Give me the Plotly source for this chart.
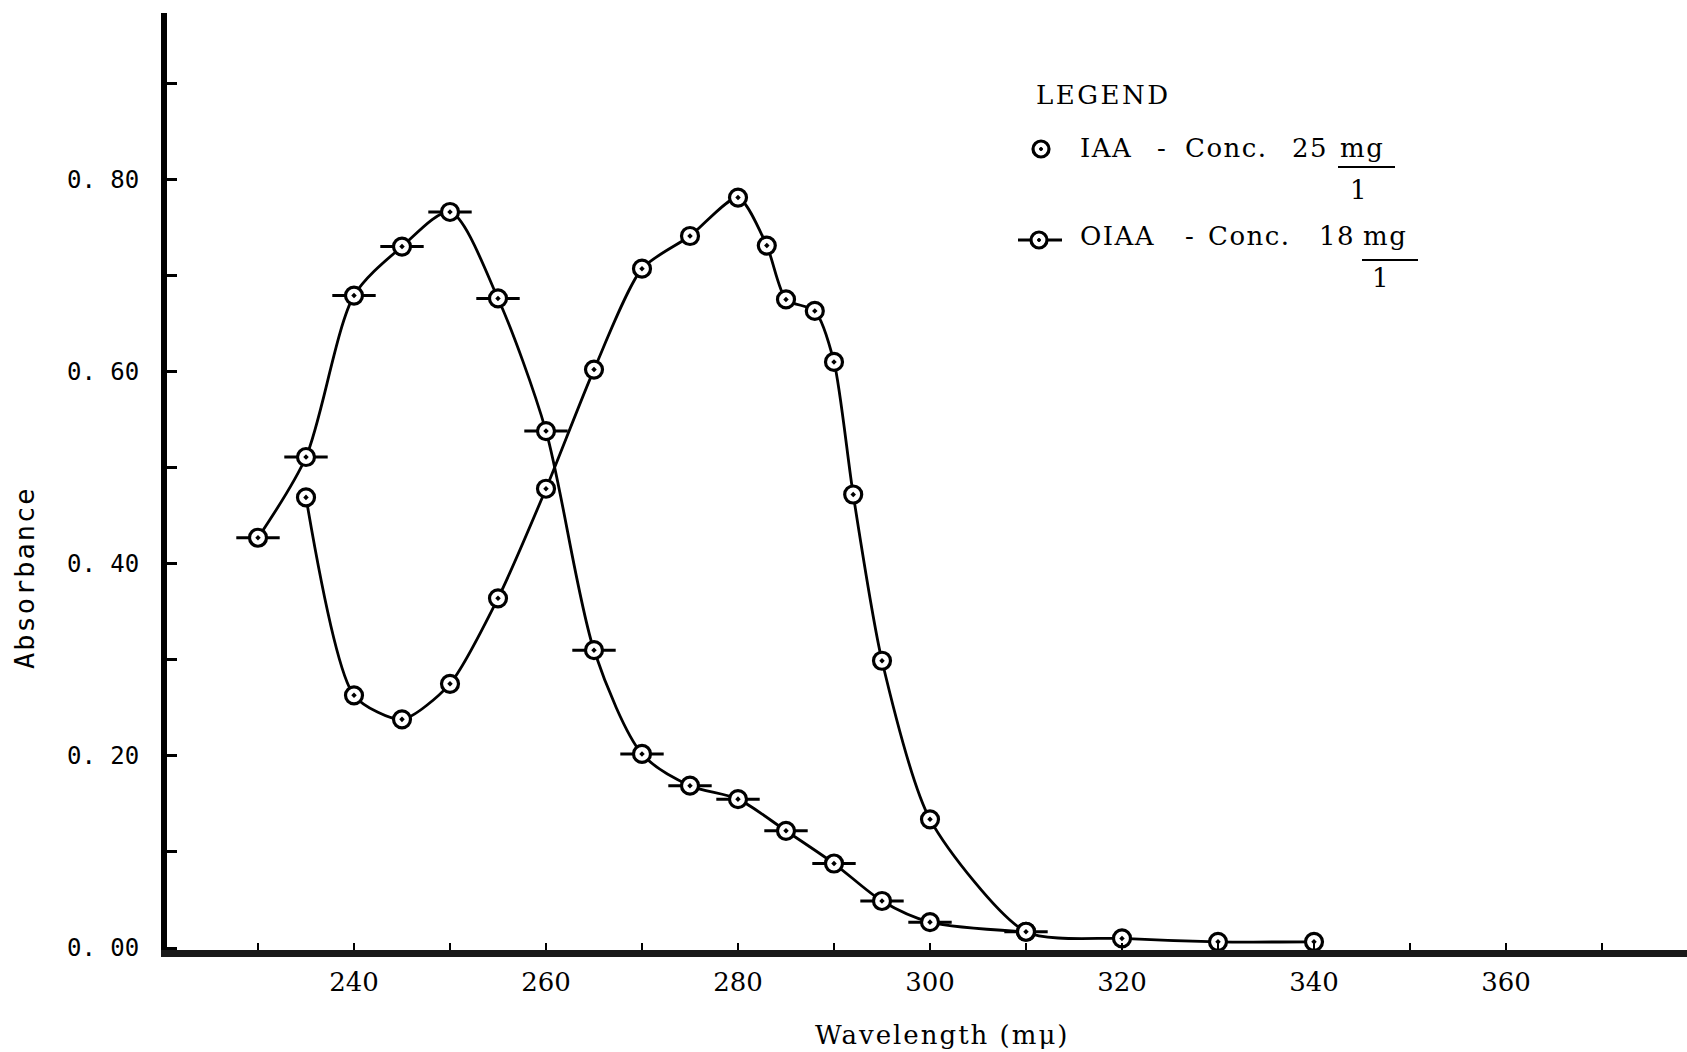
import plotly.graph_objects as go

# ---------------- data ----------------
oiaa_wl = [230, 235, 240, 245, 250, 255, 260, 265, 270, 275, 280, 285, 290, 295, 300, 310]
oiaa_abs = [0.427, 0.511, 0.679, 0.730, 0.766, 0.676, 0.538, 0.310, 0.202, 0.169, 0.155,
            0.122, 0.088, 0.049, 0.027, 0.017]

iaa_wl = [235, 240, 245, 250, 255, 260, 265, 270, 275, 280, 283, 285, 288, 290, 292, 295,
          300, 310, 320, 330, 340]
iaa_abs = [0.469, 0.263, 0.238, 0.275, 0.364, 0.478, 0.602, 0.707, 0.741, 0.781, 0.731,
           0.675, 0.663, 0.610, 0.472, 0.299, 0.134, 0.017, 0.010, 0.0065, 0.0065]

x_tickvals = [230, 240, 250, 260, 270, 280, 290, 300, 310, 320, 330, 340, 350, 360, 370]
x_ticktext = ["", "240", "", "260", "", "280", "", "300", "", "320", "", "340", "", "360", ""]
y_tickvals = [0.0, 0.1, 0.2, 0.3, 0.4, 0.5, 0.6, 0.7, 0.8, 0.9]
y_ticktext = ["0. 00", "", "0. 20", "", "0. 40", "", "0. 60", "", "0. 80", ""]

# ---------------- layout geometry (pixels) ----------------
W, H = 1687, 1052
L, R, T, B = 167, 0, 13, 102
PW, PH = W - L - R, H - T - B


def px(xp):
    return (xp - L) / PW


def py(yp):
    return (H - B - yp) / PH


def spaced(s, ls):
    return '<span style="letter-spacing:%spx">%s</span>' % (ls, s)


serif = "DejaVu Serif"
mono = "DejaVu Sans Mono"

fig = go.Figure()

# horizontal dashes of OIAA markers (drawn under the circles)
fig.add_trace(go.Scatter(
    x=oiaa_wl, y=oiaa_abs, mode="markers", showlegend=False, hoverinfo="skip",
    marker=dict(symbol="line-ew", size=31, line=dict(color="black", width=3)),
))
# IAA curve
fig.add_trace(go.Scatter(
    x=iaa_wl, y=iaa_abs, mode="lines+markers", name="IAA", showlegend=False,
    line=dict(color="black", width=2.8, shape="spline", smoothing=0.7),
    marker=dict(symbol="circle-dot", size=17, color="white",
                line=dict(color="black", width=3.2)),
))
# OIAA curve
fig.add_trace(go.Scatter(
    x=oiaa_wl, y=oiaa_abs, mode="lines+markers", name="OIAA", showlegend=False,
    line=dict(color="black", width=2.8, shape="spline", smoothing=0.8),
    marker=dict(symbol="circle-dot", size=17, color="white",
                line=dict(color="black", width=3.2)),
))

annotations = []
shapes = []

# axis titles
annotations.append(dict(
    text=spaced("Absorbance", 2), xref="paper", yref="paper", x=px(24), y=py(578),
    xanchor="center", yanchor="middle", textangle=-90, showarrow=False,
    font=dict(family=mono, size=27, color="black"),
))
annotations.append(dict(
    text=spaced("Wavelength (m\u03bc)", 2), xref="paper", yref="paper", x=px(942), y=py(1035),
    xanchor="center", yanchor="middle", showarrow=False,
    font=dict(family=serif, size=26, color="black"),
))

# legend
lf = dict(family=serif, size=26, color="black")
annotations.append(dict(text=spaced("LEGEND", 2.5), xref="paper", yref="paper", x=px(1034), y=py(95),
                        xanchor="left", yanchor="middle", showarrow=False, font=lf))
row1 = [("IAA", 1078), ("-", 1155), ("Conc.", 1183), ("25", 1290), ("mg", 1338)]
row2 = [("OIAA", 1078), ("-", 1183), ("Conc.", 1206), ("18", 1317), ("mg", 1361)]
for words, yc in ((row1, 148), (row2, 236)):
    for w, xl in words:
        annotations.append(dict(text=spaced(w, 1.5), xref="paper", yref="paper", x=px(xl), y=py(yc),
                                xanchor="left", yanchor="middle", showarrow=False, font=lf))
# fraction denominators and bars
for xl, xr, ybar, xone, yone in ((1338, 1395, 167, 1358, 190), (1362, 1418, 260, 1380, 278)):
    shapes.append(dict(type="line", xref="paper", yref="paper", x0=px(xl), x1=px(xr),
                       y0=py(ybar), y1=py(ybar), line=dict(color="black", width=2)))
    annotations.append(dict(text="1", xref="paper", yref="paper", x=px(xone), y=py(yone),
                            xanchor="center", yanchor="middle", showarrow=False, font=lf))
# legend symbols
shapes.append(dict(type="line", xref="paper", yref="paper", x0=px(1018), x1=px(1062),
                   y0=py(240), y1=py(240), line=dict(color="black", width=3)))
for cx, cy in ((1041, 149), (1039, 240)):
    shapes.append(dict(type="circle", xref="paper", yref="paper", xsizemode="pixel",
                       ysizemode="pixel", xanchor=px(cx), yanchor=py(cy),
                       x0=-8, x1=8, y0=-8, y1=8, fillcolor="white",
                       line=dict(color="black", width=3.2)))
    shapes.append(dict(type="circle", xref="paper", yref="paper", xsizemode="pixel",
                       ysizemode="pixel", xanchor=px(cx), yanchor=py(cy),
                       x0=-1.5, x1=1.5, y0=-1.5, y1=1.5, fillcolor="black",
                       line=dict(color="black", width=1)))

x0 = 230 + (L - 258) / 9.6
x1 = 230 + (W - 258) / 9.6

fig.update_layout(
    width=W, height=H,
    margin=dict(l=L, r=R, t=T, b=B, pad=0),
    paper_bgcolor="white", plot_bgcolor="white",
    annotations=annotations, shapes=shapes,
    showlegend=False,
    xaxis=dict(
        range=[x0, x1], tickmode="array", tickvals=x_tickvals, ticktext=x_ticktext,
        ticks="inside", ticklen=7, tickwidth=2, tickcolor="black",
        showline=True, linecolor="#1a1a1a", linewidth=7,
        showgrid=False, zeroline=False, ticklabelstandoff=3,
        tickfont=dict(family=serif, size=26, color="black"),
    ),
    yaxis=dict(
        range=[-0.002, (952 - T) / 965], tickmode="array", tickvals=y_tickvals,
        ticktext=y_ticktext, ticks="inside", ticklen=10, tickwidth=3, tickcolor="black",
        showline=True, linecolor="black", linewidth=6,
        showgrid=False, zeroline=False, ticklabelstandoff=17,
        tickfont=dict(family=mono, size=24, color="black"),
    ),
)

fig.write_html("out.html")
